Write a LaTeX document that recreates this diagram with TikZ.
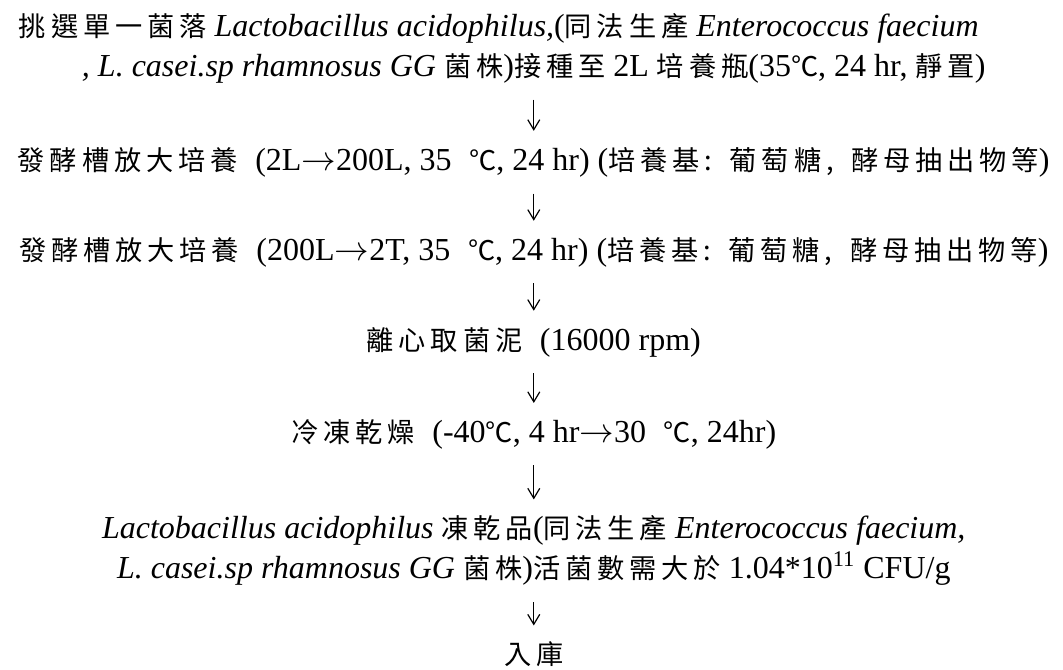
\documentclass[tikz,border=0pt]{standalone}
\usepackage{fontspec}
\setmainfont{Liberation Serif}
\newfontfamily\cjk[Scale=0.85,LetterSpace=18]{Noto Sans CJK TC}
\usepackage{tikz}
\usetikzlibrary{positioning, arrows.meta}
\newcommand{\zh}[1]{{\cjk #1}}
\newcommand{\toarr}{$\rightarrow$}
\newcommand{\gap}{\hspace{0.55em}}

\begin{document}
\begin{tikzpicture}[
    every node/.style={font=\fontsize{16}{20}\selectfont, inner sep=0pt, align=center},
    flow/.style={-{Straight Barb[length=5pt,width=6pt]}, line width=0.6pt, shorten <=8pt, shorten >=8pt}
]
\useasboundingbox (0,0) rectangle (18.68,-11.77);

% === Steps, top to bottom ===
\node (pick) at (9.38,-0.85)
    {\zh{挑選單一菌落} \textit{Lactobacillus acidophilus,}(\zh{同法生產} \textit{Enterococcus faecium}\hspace*{35pt}\\
     \textit{, L. casei.sp rhamnosus GG} \zh{菌株})\zh{接種至} 2L \zh{培養瓶}(35\zh{℃}, 24 hr, \zh{靜置})};

\node (scaleA) at (9.38,-2.85)
    {\zh{發酵槽放大培養}\gap(2L\toarr 200L, 35\gap\zh{℃}, 24 hr) (\zh{培養基:}\gap\zh{葡萄糖,}\gap\zh{酵母抽出物等})};

\node (scaleB) at (9.38,-4.43)
    {\zh{發酵槽放大培養}\gap(200L\toarr 2T, 35\gap\zh{℃}, 24 hr) (\zh{培養基:}\gap\zh{葡萄糖,}\gap\zh{酵母抽出物等})};

\node (spin) at (9.38,-6.01)
    {\zh{離心取菌泥}\gap(16000 rpm)};

\node (dry) at (9.38,-7.63)
    {\zh{冷凍乾燥}\gap(-40\zh{℃}, 4 hr\toarr 30\gap\zh{℃}, 24hr)};

\node (powder) at (9.38,-9.68)
    {\textit{Lactobacillus acidophilus} \zh{凍乾品}(\zh{同法生產} \textit{Enterococcus faecium,}\\
     \textit{L. casei.sp rhamnosus GG} \zh{菌株})\zh{活菌數需大於} 1.04*10\textsuperscript{11} CFU/g};

\node (store) at (9.38,-11.50) {\zh{入庫}};

% Arrows between steps
\draw[flow] (pick) -- (scaleA);
\draw[flow] (scaleA) -- (scaleB);
\draw[flow] (scaleB) -- (spin);
\draw[flow] (spin) -- (dry);
\draw[flow] (dry) -- (powder);
\draw[flow] (powder) -- (store);

\end{tikzpicture}
\end{document}
